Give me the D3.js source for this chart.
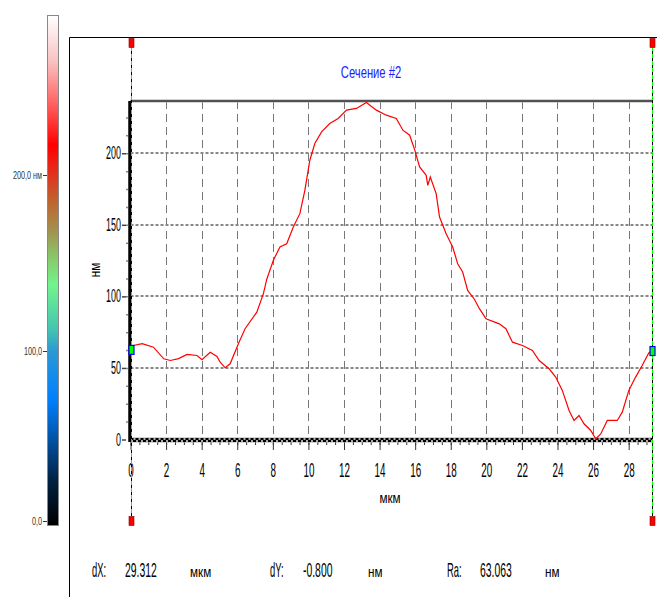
<!DOCTYPE html>
<html>
<head>
<meta charset="utf-8">
<script src="https://cdn.jsdelivr.net/npm/d3@7"></script>
<style>
  body { margin: 0; background: #fff; }
  text { font-family: "Liberation Sans", Arial, sans-serif; }
</style>
</head>
<body>
<div id="chart"></div>
<script>
// profile section, position along the cut (мкм) and height (нм)
const posUm = [0, 0.10, 0.66, 1.29, 1.87, 2.24, 2.7, 3.18, 3.74, 4.02, 4.48, 4.86, 5.04, 5.32, 5.60,
    6.07, 6.44, 7.10, 7.47, 7.66, 8.03, 8.40, 8.78, 9.15, 9.52, 9.80, 10.08, 10.36, 10.74, 11.20,
    11.67, 12.14, 12.70, 13.26, 13.82, 14.38, 14.94, 15.31, 15.69, 15.97, 16.25, 16.62, 16.71, 16.85,
    17.18, 17.37, 17.74, 18.11, 18.39, 18.67, 18.95, 19.33, 19.61, 19.98, 20.73, 21.10, 21.47, 22.03,
    22.59, 22.97, 23.53, 23.90, 24.27, 24.65, 24.93, 25.21, 25.49, 25.87, 26.15, 26.43, 26.80, 27.36,
    27.64, 28.01, 28.39, 28.76, 29.13, 29.312]
const heightNm = [62.6, 65.5, 67, 64.5, 56.4, 55.2, 56.5, 59.4, 58.7, 55.7, 61, 58, 54, 50.1, 52.9,
    67, 77.4, 89, 101.9, 112, 125.2, 134.5, 136.8, 148.5, 157.8, 174.1, 195.1, 206.8, 214.9, 220.8,
    224.3, 230.1, 231.3, 235.5, 230.1, 226.6, 224.3, 216.1, 212.6, 202.5, 190.4, 184.6, 177.6, 183.4,
    171.8, 155.4, 143.8, 134.5, 122.8, 117, 104.2, 98, 91.4, 84.4, 80.8, 77.4, 68, 65.7,
    62.2, 55.2, 49.4, 43.6, 34.3, 20.3, 13.3, 16.8, 11, 6.3, 0.5, 3.9, 13.3, 13.3,
    19.1, 34.3, 43.6, 51.7, 60.5, 61.8]

const xTicks = [0, 2, 4, 6, 8, 10, 12, 14, 16, 18, 20, 22, 24, 26, 28]
const yTicks = [0, 50, 100, 150, 200]
const colorTicks = [0, 100, 200]
const colorTickLabels = ['0,0', '100,0', '200,0 нм']
const readout = [
    { name: 'dX:', value: '29.312', unit: 'мкм' },
    { name: 'dY:', value: '-0.800', unit: 'нм' },
    { name: 'Ra:', value: '63.063', unit: 'нм' }
]
const title = 'Сечение #2'

let width = 657,
    height = 597,
    sx = 0.47 // the instrument font is very condensed

let svg = d3.select('#chart')
    .append('svg')
    .attr('width', width)
    .attr('height', height)

// squeezed text helper
function label(parent, x, y, str, o) {
    return parent.append('text')
        .attr('transform', `translate(${x},${y}) scale(${o.sx || sx},1)`)
        .attr('text-anchor', o.anchor || 'start')
        .attr('font-size', o.size || 20)
        .attr('fill', o.fill || '#000')
        .text(str)
}

// scales
let x = d3.scaleLinear()
    .domain([0, 29.312])
    .range([130.5, 652])
let y = d3.scaleLinear()
    .domain([0, 236.5])
    .range([439.5, 101])

// colour bar on the left
let stops = [
    [0, '#ffffff'], [0.088, '#f8c4c4'], [0.166, '#ff6a6a'], [0.254, '#ff0000'],
    [0.313, '#e0341e'], [0.362, '#c0622e'], [0.421, '#a4904e'], [0.479, '#86cc6c'],
    [0.528, '#72f48e'], [0.616, '#44c4b0'], [0.658, '#2c98d4'], [0.753, '#0080ff'],
    [0.832, '#0052a4'], [0.910, '#002244'], [1, '#000000']
]
let grad = svg.append('defs').append('linearGradient')
    .attr('id', 'cbar')
    .attr('x1', 0).attr('y1', 0).attr('x2', 0).attr('y2', 1)
grad.selectAll('stop')
    .data(stops).enter()
    .append('stop')
    .attr('offset', d => d[0])
    .attr('stop-color', d => d[1])

svg.append('rect')
    .attr('x', 47.5).attr('y', 15.5)
    .attr('width', 11).attr('height', 510)
    .attr('fill', 'url(#cbar)')
    .attr('stroke', '#888')

let cScale = d3.scaleLinear()
    .domain([0, 100, 200])
    .range([521, 351, 175])
let cg = svg.append('g')
colorTicks.forEach((v, i) => {
    cg.append('line')
        .attr('x1', 43).attr('x2', 47)
        .attr('y1', cScale(v) + 0.5).attr('y2', cScale(v) + 0.5)
        .attr('stroke', '#333')
    label(cg, 42, cScale(v) + 4, colorTickLabels[i], { anchor: 'end', size: 11, sx: 0.66, fill: '#333' })
})

// outer frame
svg.append('path')
    .attr('d', 'M69.5,597 V37.5 H657')
    .attr('fill', 'none')
    .attr('stroke', '#000')

// title
label(svg, 371, 78, title, { anchor: 'middle', size: 17, sx: 0.66, fill: '#2020ff' })

// grid
svg.append('g')
    .selectAll('line')
    .data(xTicks.filter(d => d > 0)).enter()
    .append('line')
    .attr('x1', d => Math.round(x(d)) + 0.5)
    .attr('x2', d => Math.round(x(d)) + 0.5)
    .attr('y1', y.range()[1])
    .attr('y2', y.range()[0])
    .attr('stroke', '#777')
    .attr('stroke-dasharray', '8,5')

svg.append('g')
    .selectAll('line')
    .data(yTicks.filter(d => d > 0)).enter()
    .append('line')
    .attr('x1', x.range()[0])
    .attr('x2', x.range()[1])
    .attr('y1', d => Math.round(y(d)))
    .attr('y2', d => Math.round(y(d)))
    .attr('stroke', '#888')
    .attr('stroke-width', 2)
    .attr('stroke-dasharray', '3,2')

// top border of the plot
svg.append('line')
    .attr('x1', x.range()[0]).attr('x2', x.range()[1])
    .attr('y1', 101).attr('y2', 101)
    .attr('stroke', '#aaa').attr('stroke-width', 3)
svg.append('line')
    .attr('x1', x.range()[0]).attr('x2', x.range()[1])
    .attr('y1', 101).attr('y2', 101)
    .attr('stroke', '#333').attr('stroke-width', 1.5)

// x axis: minor then major ticks
svg.append('g')
    .attr('transform', 'translate(0,440)')
    .call(d3.axisBottom(x).tickValues(d3.range(0, 29.5, 0.5)).tickSize(5).tickFormat(''))
    .call(g => g.select('.domain').remove())
    .call(g => g.selectAll('line').attr('stroke', '#333'))

let xAxis = svg.append('g')
    .attr('transform', 'translate(0,440)')
    .call(d3.axisBottom(x).tickValues(xTicks).tickSize(10))
    .call(g => g.select('.domain').remove())
    .call(g => g.selectAll('line').attr('stroke', '#333'))
xAxis.selectAll('text')
    .attr('y', 0).attr('dy', null)
    .attr('transform', `translate(0,37) scale(${sx},1)`)
    .attr('font-size', 21)
    .attr('font-family', '"Liberation Sans", Arial, sans-serif')
    .attr('fill', '#000')

// bottom axis line (checkered)
svg.append('line')
    .attr('x1', x.range()[0]).attr('x2', x.range()[1])
    .attr('y1', 440).attr('y2', 440)
    .attr('stroke', '#aaa').attr('stroke-width', 5)
svg.append('line')
    .attr('x1', x.range()[0]).attr('x2', x.range()[1])
    .attr('y1', 439).attr('y2', 439)
    .attr('stroke', '#000').attr('stroke-width', 2)
    .attr('stroke-dasharray', '3,2')
svg.append('line')
    .attr('x1', x.range()[0]).attr('x2', x.range()[1])
    .attr('y1', 441).attr('y2', 441)
    .attr('stroke', '#000').attr('stroke-width', 2)
    .attr('stroke-dasharray', '3,2')
    .attr('stroke-dashoffset', 2.5)

// y axis: minor dots then labelled ticks
svg.append('g')
    .attr('transform', 'translate(128,0)')
    .call(d3.axisLeft(y).tickValues(d3.range(12.5, 236, 12.5)).tickSize(2).tickFormat(''))
    .call(g => g.select('.domain').remove())
    .call(g => g.selectAll('line').attr('stroke', '#888').attr('stroke-width', 1.5))

let yAxis = svg.append('g')
    .attr('transform', 'translate(126,0)')
    .call(d3.axisLeft(y).tickValues(yTicks).tickSize(4))
    .call(g => g.select('.domain').remove())
    .call(g => g.selectAll('line').attr('stroke', '#444').attr('stroke-width', 1.5))
yAxis.selectAll('text')
    .attr('x', 0).attr('dy', null)
    .attr('transform', `translate(-5,5.5) scale(${sx},1)`)
    .attr('font-size', 19)
    .attr('font-family', '"Liberation Sans", Arial, sans-serif')
    .attr('fill', '#000')

// left axis line
svg.append('line')
    .attr('x1', 130).attr('x2', 130)
    .attr('y1', 101).attr('y2', 442)
    .attr('stroke', '#000').attr('stroke-width', 3.5)

// axis titles
label(svg, 390, 503, 'мкм', { anchor: 'middle', size: 15, sx: 0.78 })
svg.append('text')
    .attr('transform', `translate(100,270) rotate(-90) scale(0.78,1)`)
    .attr('text-anchor', 'middle')
    .attr('font-size', 15)
    .text('нм')

// the profile
let line = d3.line()
    .x((d, i) => x(posUm[i]))
    .y(d => y(d))

svg.append('path')
    .datum(heightNm)
    .attr('d', line)
    .attr('fill', 'none')
    .attr('stroke', '#ff0000')
    .attr('stroke-width', 1.2)

// cursor lines at both ends
let ends = [0, posUm.length - 1]
ends.forEach(i => {
    let cx = Math.round(x(posUm[i])) + 0.5
    svg.append('line')
        .attr('x1', cx).attr('x2', cx)
        .attr('y1', 40).attr('y2', 522)
        .attr('stroke', '#000')
    svg.append('line')
        .attr('x1', cx).attr('x2', cx)
        .attr('y1', 40).attr('y2', 522)
        .attr('stroke', '#00ff00')
        .attr('stroke-dasharray', '4,3')
    // handles
    ;[43, 521].forEach(hy => {
        svg.append('rect')
            .attr('x', cx - 2.5).attr('y', hy - 4.5)
            .attr('width', 5).attr('height', 9)
            .attr('fill', '#ff0000')
            .attr('stroke', '#800000')
            .attr('stroke-width', 0.6)
    })
    // marker where the cursor meets the profile
    svg.append('rect')
        .attr('x', cx - 2.5).attr('y', y(heightNm[i]) - 4.5)
        .attr('width', 5).attr('height', 9)
        .attr('fill', '#00ff00')
        .attr('stroke', '#0000ff')
        .attr('stroke-width', 1.2)
})

// readout line at the bottom
let rx = [92, 270, 447]
readout.forEach((r, i) => {
    label(svg, rx[i], 577, r.name, { size: 20 })
    label(svg, rx[i] + 33, 577, r.value, { size: 20, sx: 0.52 })
    label(svg, rx[i] + 98, 577, r.unit, { size: 15, sx: 0.78 })
})
</script>
</body>
</html>
